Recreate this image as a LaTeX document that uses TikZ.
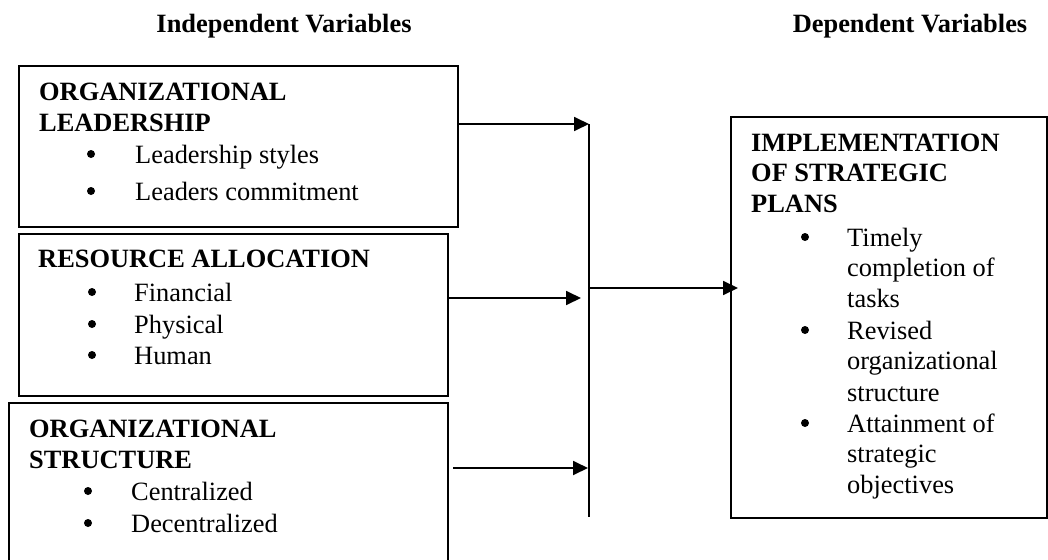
\documentclass[tikz,border=0pt]{standalone}
\usepackage{fontspec}
\setmainfont{Liberation Serif}
\usetikzlibrary{arrows.meta}
\begin{document}
\begin{tikzpicture}[x=1pt,y=-1pt,
  box/.style={draw=black,line width=1.8pt,rectangle,inner sep=0pt,anchor=north west},
  hd/.style={anchor=base west,inner sep=0pt,font=\fontsize{26.4}{30.4}\selectfont\bfseries},
  tx/.style={anchor=base west,inner sep=0pt,font=\fontsize{26.4}{30.4}\selectfont},
  bu/.style={circle,fill=black,inner sep=0pt,minimum size=8pt},
  ttl/.style={anchor=base,inner sep=0pt,font=\fontsize{26.4}{30.4}\selectfont\bfseries},
  ln/.style={line width=1.8pt},
  arr/.style={line width=1.8pt,-{Triangle[length=15pt,width=14pt]}}]
\useasboundingbox (0,0) rectangle (1048,559);
\newcommand\hdline[4]{\node[hd] (#1) at (#2,#3) {#4};}
\newcommand\bulline[5]{\node[bu] (#1b) at (#2,#3-9) {}; \node[tx] (#1) at (#4,#3) {#5};}
% titles
\node[ttl] (tind) at (284,33) {Independent Variables};
\node[ttl] (tdep) at (910,33) {Dependent Variables};
% boxes
\node[box,minimum width=439pt,minimum height=161pt] (box1) at (18,65) {};
\node[box,minimum width=429pt,minimum height=162pt] (box2) at (18,233) {};
\node[box,minimum width=439pt,minimum height=170pt] (box3) at (8,402) {};
\node[box,minimum width=316pt,minimum height=401pt] (box4) at (730,116) {};
% box 1 text
\hdline{a1}{39}{101}{ORGANIZATIONAL}
\hdline{a2}{39}{131}{LEADERSHIP}
\bulline{a3}{91}{163}{135}{Leadership styles}
\bulline{a4}{91}{200}{135}{Leaders commitment}
% box 2 text
\hdline{c1}{38}{267}{RESOURCE ALLOCATION}
\bulline{c2}{92}{301}{134}{Financial}
\bulline{c3}{92}{333}{134}{Physical}
\bulline{c4}{92}{364}{134}{Human}
% box 3 text
\hdline{d1}{29}{437}{ORGANIZATIONAL}
\hdline{d2}{29}{468}{STRUCTURE}
\bulline{d3}{88}{500}{131}{Centralized}
\bulline{d4}{88}{532}{131}{Decentralized}
% box 4 text
\hdline{e1}{751}{151}{IMPLEMENTATION}
\hdline{e2}{751}{181}{OF STRATEGIC}
\hdline{e3}{751}{212}{PLANS}
\bulline{e4}{805}{246}{847}{Timely}
\node[tx] (e5) at (847,276) {completion of};
\node[tx] (e6) at (847,307) {tasks};
\bulline{e7}{805}{339}{847}{Revised}
\node[tx] (e8) at (847,369) {organizational};
\node[tx] (e9) at (847,401) {structure};
\bulline{e10}{805}{432}{847}{Attainment of}
\node[tx] (e11) at (847,462) {strategic};
\node[tx] (e12) at (847,493) {objectives};
% connectors
\coordinate (j1) at (589,124);
\coordinate (jb) at (589,517);
\coordinate (j2) at (581,298);
\coordinate (j3) at (588,468);
\coordinate (jm) at (589,288);
\coordinate (t4) at (738,288);
\coordinate (s3) at (453,468);
\draw[ln] (j1) -- (jb);
\draw[arr] (box1.east |- j1) -- (j1);
\draw[arr] (box2.east |- j2) -- (j2);
\draw[arr] (s3) -- (j3);
\draw[arr] (jm) -- (t4);
\end{tikzpicture}
\end{document}
